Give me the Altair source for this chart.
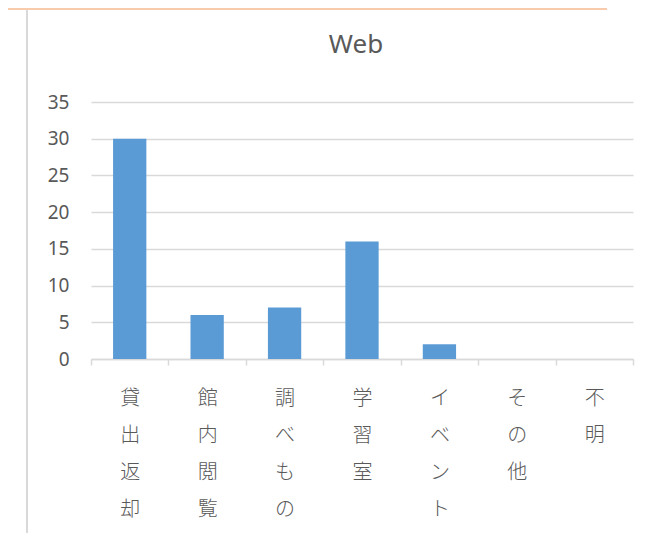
import altair as alt
import pandas as pd

categories = ["貸出返却", "館内閲覧", "調べもの", "学習室", "イベント", "その他", "不明"]
values = [30, 6, 7, 16, 2, 0, 0]
y_ticks = [0, 5, 10, 15, 20, 25, 30, 35]

df = pd.DataFrame({"cat": categories, "val": values})

GRID = "#d9d9d9"
TEXT = "#595959"
W, H = 542, 257

bars = alt.Chart(df).mark_bar(color="#5b9bd5", width=alt.RelativeBandSize(0.43)).encode(
    x=alt.X(
        "cat:N",
        sort=categories,
        scale=alt.Scale(paddingInner=0, paddingOuter=0),
        axis=alt.Axis(
            title=None,
            grid=False,
            labelAngle=0,
            labelExpr="split(datum.label, '')",
            labelLineHeight=37,
            labelFontSize=20,
            labelFont="Noto Sans CJK JP",
            labelFontWeight=300,
            labelColor=TEXT,
            labelBaseline="top",
            labelPadding=23,
            tickBand="extent",
            tickSize=6,
            tickWidth=1.5,
            tickColor=GRID,
            domainColor=GRID,
            domainWidth=1.5,
        ),
    ),
    y=alt.Y(
        "val:Q",
        scale=alt.Scale(domain=[0, 35], nice=False),
        axis=alt.Axis(
            title=None,
            values=y_ticks,
            domain=False,
            ticks=False,
            gridColor=GRID,
            gridWidth=1.5,
            labelFontSize=19,
            labelFont="Noto Sans",
            labelColor=TEXT,
            labelPadding=22,
        ),
    ),
)

deco = pd.DataFrame({"k": [0]})
band = alt.Chart(deco).mark_rect(color="#f8cbad").encode(
    x=alt.value(-83), x2=alt.value(516), y=alt.value(-94), y2=alt.value(-92)
)
left_line = alt.Chart(deco).mark_rule(color=GRID, strokeWidth=2).encode(
    x=alt.value(-64), y=alt.value(-92), y2=alt.value(431)
)

chart = alt.layer(band, left_line, bars).properties(
    width=W,
    height=H,
    padding={"left": 83, "top": 94, "right": 12, "bottom": 174},
    autosize=alt.AutoSizeParams(type="none"),
    title=alt.TitleParams(
        "Web",
        fontSize=26,
        font="Noto Sans",
        fontWeight="normal",
        color=TEXT,
        anchor="middle",
        baseline="alphabetic",
        frame="group",
        offset=-71,
        dx=-6,
    ),
).configure_view(stroke=None)

chart.save("out.html", embed_options={"renderer": "svg", "actions": False})
